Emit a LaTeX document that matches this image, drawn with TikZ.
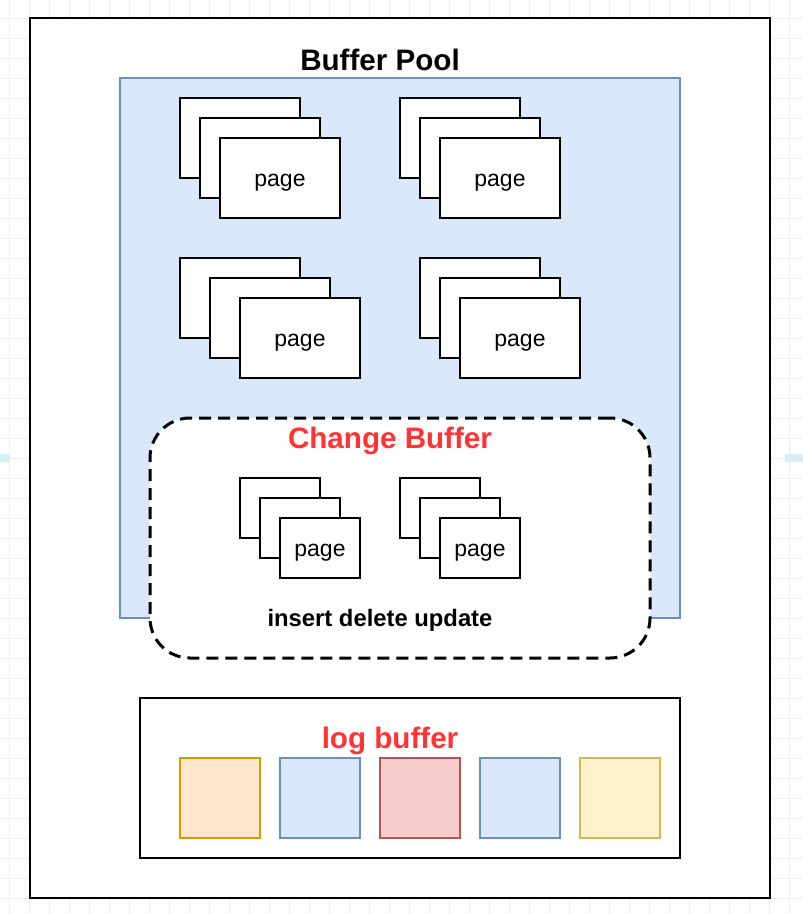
\documentclass[tikz,border=0pt]{standalone}
\usepackage{fontspec}
\setmainfont{Liberation Sans}
\definecolor{bpfill}{HTML}{DAE8FC}
\definecolor{bpline}{HTML}{6C8EBF}
\definecolor{orfill}{HTML}{FFE6CC}
\definecolor{orline}{HTML}{D79B00}
\definecolor{rdfill}{HTML}{F8CECC}
\definecolor{rdline}{HTML}{B85450}
\definecolor{ylfill}{HTML}{FFF2CC}
\definecolor{ylline}{HTML}{D6B656}
\definecolor{redtxt}{HTML}{FF3333}
\definecolor{gridc}{HTML}{EEEEEE}
\definecolor{edgemarkc}{HTML}{D6EEF8}
\begin{document}
\begin{tikzpicture}[x=1pt,y=-1pt,
  pg/.style={draw=black,fill=white,line width=2pt,minimum width=120pt,minimum height=80pt,inner sep=0pt},
  spg/.style={pg,minimum width=80pt,minimum height=60pt},
  pgtext/.style={inner sep=0pt,font=\fontsize{23}{27}\selectfont},
  lsq/.style={line width=2pt,minimum width=80pt,minimum height=80pt,inner sep=0pt},
  bigtitle/.style={inner sep=0pt,font=\fontsize{29.6}{34}\selectfont\bfseries},
  boxfrm/.style={inner sep=0pt,line width=2pt},
]
\useasboundingbox (0,0) rectangle (803,914);
\fill[white] (0,0) rectangle (803,914);
% background grid
\foreach \x in {9,29,...,803} \draw[gridc,line width=1pt] (\x,0) -- (\x,914);
\foreach \y in {18,38,...,914} \draw[gridc,line width=1pt] (0,\y) -- (803,\y);
\fill[edgemarkc] (0,454) rectangle (10,462);
\fill[edgemarkc] (785,454) rectangle (803,462);
% outer frame
\node[boxfrm,draw=black,fill=white,minimum width=740pt,minimum height=880pt] (outer) at (400,458) {};
\node[bigtitle] (bptitle) at (380,60) {Buffer Pool};
% buffer pool
\node[inner sep=0pt,draw=bpline,fill=bpfill,line width=1.5pt,minimum width=560pt,minimum height=540pt] (pool) at (400,348) {};
% page stacks
\node[pg] (p1a) at (240,138) {};
\node[pg] (p1b) at (260,158) {};
\node[pg] (p1c) at (280,178) {};
\node[pgtext] (p1t) at (280,183) {page};
\node[pg] (p2a) at (460,138) {};
\node[pg] (p2b) at (480,158) {};
\node[pg] (p2c) at (500,178) {};
\node[pgtext] (p2t) at (500,183) {page};
\node[pg] (p3a) at (240,298) {};
\node[pg] (p3b) at (270,318) {};
\node[pg] (p3c) at (300,338) {};
\node[pgtext] (p3t) at (300,343) {page};
\node[pg] (p4a) at (480,298) {};
\node[pg] (p4b) at (500,318) {};
\node[pg] (p4c) at (520,338) {};
\node[pgtext] (p4t) at (520,343) {page};
% change buffer
\node[draw=black,fill=white,line width=3pt,dash pattern=on 12pt off 7pt,rounded corners=40pt,minimum width=500pt,minimum height=240pt,inner sep=0pt] (cb) at (400,538) {};
\node[bigtitle,text=redtxt] (cbtitle) at (390,440.5) {Change Buffer};
\node[spg] (s1a) at (280,508) {};
\node[spg] (s1b) at (300,528) {};
\node[spg] (s1c) at (320,548) {};
\node[pgtext] (s1t) at (320,552.5) {page};
\node[spg] (s2a) at (440,508) {};
\node[spg] (s2b) at (460,528) {};
\node[spg] (s2c) at (480,548) {};
\node[pgtext] (s2t) at (480,552.5) {page};
\node[inner sep=0pt,font=\fontsize{23.8}{28}\selectfont\bfseries] (ops) at (380,620.5) {insert delete update};
% log buffer
\node[boxfrm,draw=black,fill=white,minimum width=540pt,minimum height=160pt] (log) at (410,778) {};
\node[bigtitle,text=redtxt] (logtitle) at (390,741) {log buffer};
\node[lsq,draw=orline,fill=orfill] (l1) at (220,798) {};
\node[lsq,draw=bpline,fill=bpfill] (l2) at (320,798) {};
\node[lsq,draw=rdline,fill=rdfill] (l3) at (420,798) {};
\node[lsq,draw=bpline,fill=bpfill] (l4) at (520,798) {};
\node[lsq,draw=ylline,fill=ylfill] (l5) at (620,798) {};
\end{tikzpicture}
\end{document}
